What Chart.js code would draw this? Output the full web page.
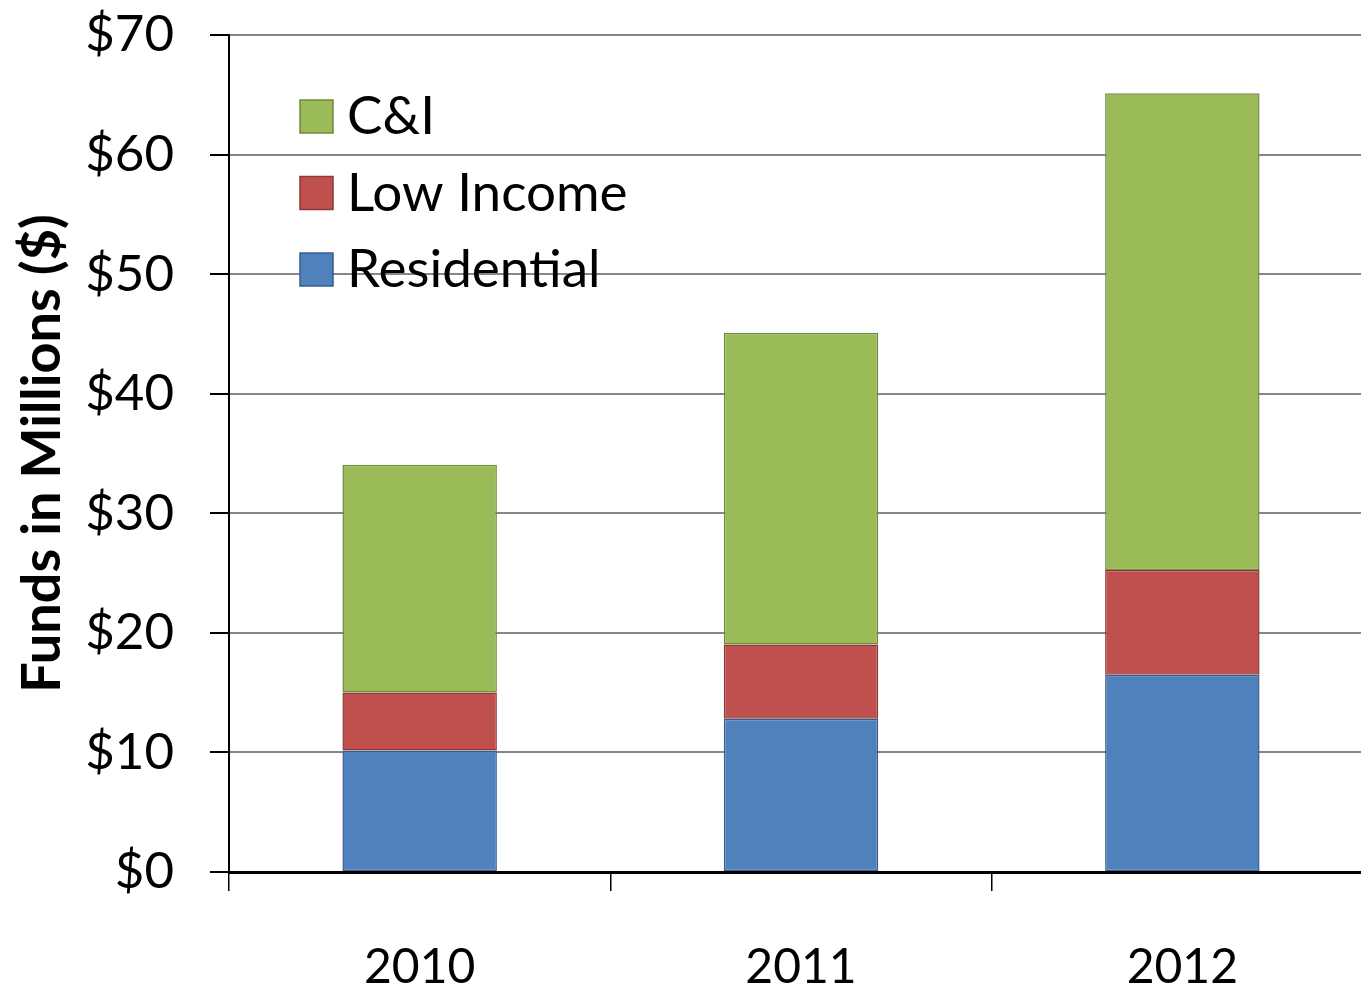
<!DOCTYPE html>
<html>
<head>
<meta charset="utf-8">
<script src="https://cdn.jsdelivr.net/npm/chart.js@4"></script>
<style>
  html, body { margin: 0; padding: 0; background: #fff; overflow: hidden; }
  #clip { width: 1361px; height: 986px; overflow: hidden; }
  #wrap { width: 1373px; height: 986px; }
</style>
</head>
<body>
<div id="clip"><div id="wrap"><canvas id="chart"></canvas></div></div>
<script>
const years = ['2010', '2011', '2012'];
const residential = [10.17, 12.81, 16.49];
const lowIncome = [4.84, 6.22, 8.77];
const commercial = [19.05, 26.07, 39.87];
const yTicks = [0, 10, 20, 30, 40, 50, 60, 70];

const FONT = 'Lato, "Open Sans", sans-serif';

// legend drawn inside the plot, stacked vertically, top series first
const insideLegend = {
  id: 'insideLegend',
  afterDatasetsDraw(chart) {
    const ctx = chart.ctx;
    const sets = chart.data.datasets.slice().reverse();
    ctx.save();
    sets.forEach((ds, i) => {
      const y = 100 + i * 76.5;
      ctx.fillStyle = ds.backgroundColor;
      ctx.fillRect(300, y, 33, 33);
      ctx.strokeStyle = ds.borderColor;
      ctx.lineWidth = 1.5;
      ctx.strokeRect(300, y, 33, 33);
      ctx.fillStyle = '#000';
      ctx.font = '53px ' + FONT;
      ctx.textBaseline = 'middle';
      ctx.textAlign = 'left';
      ctx.fillText(ds.label, 347, y + 17);
    });
    ctx.restore();
  }
};

const ctx = document.getElementById('chart');
new Chart(ctx, {
  type: 'bar',
  data: {
    labels: years,
    datasets: [
      { label: 'Residential', data: residential, backgroundColor: '#4F81BD', borderColor: '#385D8A' },
      { label: 'Low Income', data: lowIncome, backgroundColor: '#C0504D', borderColor: '#8C3836' },
      { label: 'C&I', data: commercial, backgroundColor: '#9BBB59', borderColor: '#71893F' }
    ]
  },
  options: {
    responsive: true,
    maintainAspectRatio: false,
    animation: false,
    devicePixelRatio: 1,
    layout: { padding: { top: 35, right: 0, bottom: 0, left: 0 } },
    datasets: {
      bar: {
        barPercentage: 0.405,
        categoryPercentage: 1,
        borderWidth: 1.5,
        borderSkipped: false
      }
    },
    plugins: {
      legend: { display: false },
      tooltip: { enabled: false }
    },
    scales: {
      x: {
        stacked: true,
        grid: { offset: true, drawOnChartArea: false, color: '#000', lineWidth: 1.5, tickLength: 19 },
        border: { color: '#000', width: 3 },
        ticks: { color: '#000', font: { family: FONT, size: 48 }, padding: 48 },
        afterFit: (s) => { s.height = 114; }
      },
      y: {
        stacked: true,
        min: yTicks[0],
        max: yTicks[yTicks.length - 1],
        afterBuildTicks: (s) => { s.ticks = yTicks.map(v => ({ value: v })); },
        ticks: {
          color: '#000',
          font: { family: FONT, size: 51 },
          padding: 36,
          callback: (v) => '$' + v
        },
        grid: { color: '#868686', lineWidth: 2, tickColor: '#000', tickLength: 19, tickWidth: 2 },
        border: { color: '#000', width: 2 },
        title: {
          display: true,
          text: 'Funds in Millions ($)',
          color: '#000',
          font: { family: FONT, size: 54, weight: 'bold' },
          padding: { top: 10, bottom: 0 }
        },
        afterFit: (s) => {
          s.width = 229;
          s.paddingTop = 0;
          s.paddingBottom = 0;
        }
      }
    }
  },
  plugins: [insideLegend]
});
</script>
</body>
</html>
